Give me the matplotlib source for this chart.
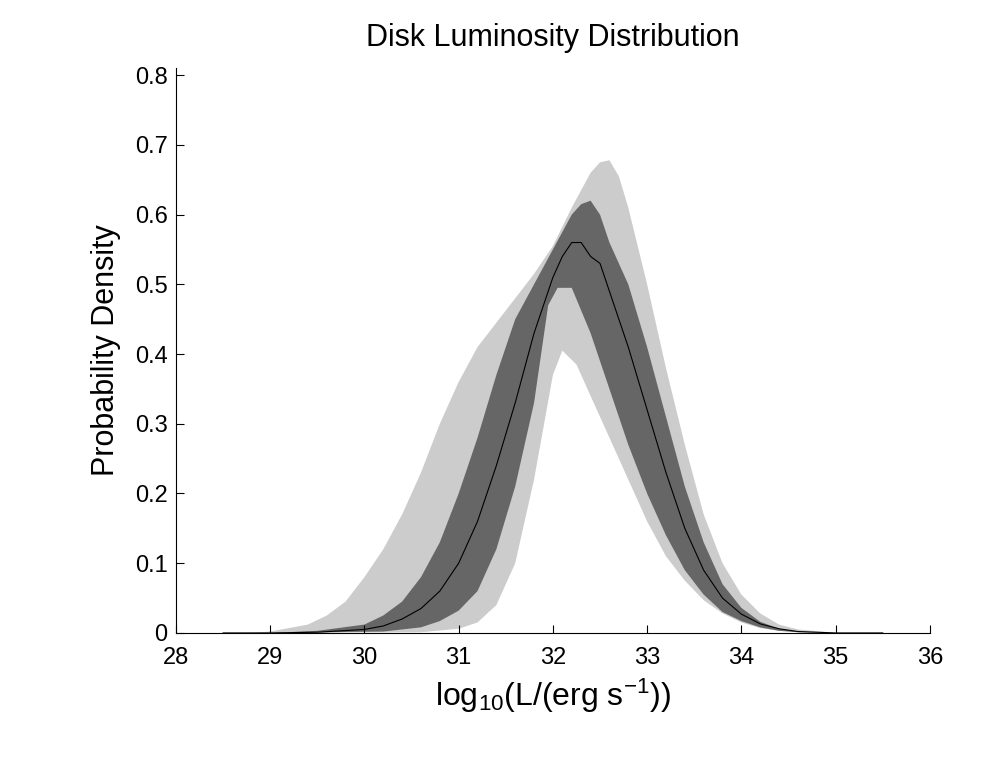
import matplotlib
matplotlib.use("Agg")
import matplotlib.pyplot as plt

plt.rcParams['font.family'] = ['Liberation Sans', 'DejaVu Sans']
plt.rcParams['mathtext.fontset'] = 'custom'
plt.rcParams['mathtext.rm'] = 'Liberation Sans'
plt.rcParams['mathtext.it'] = 'Liberation Sans'

med_x = [28.5,29,29.5,30,30.2,30.4,30.6,30.8,31,31.2,31.4,31.6,31.8,32,32.1,32.2,32.3,32.4,32.5,32.6,32.8,33,33.2,33.4,33.6,33.8,34,34.2,34.4,34.6,35,35.5]
med_y = [0,0,0.001,0.005,0.01,0.02,0.035,0.06,0.1,0.16,0.24,0.33,0.43,0.51,0.54,0.56,0.56,0.54,0.53,0.49,0.41,0.32,0.23,0.15,0.09,0.05,0.027,0.013,0.006,0.002,0,0]

d_up_x = [29,29.5,30,30.2,30.4,30.6,30.8,31,31.2,31.4,31.6,31.8,32,32.2,32.3,32.4,32.5,32.6,32.8,33,33.2,33.4,33.6,33.8,34,34.2,34.4,34.6,35]
d_up_y = [0,0.003,0.012,0.025,0.045,0.08,0.13,0.2,0.28,0.37,0.45,0.5,0.55,0.6,0.615,0.62,0.6,0.56,0.5,0.41,0.31,0.21,0.13,0.07,0.036,0.016,0.006,0.002,0]
d_lo_x = [29,30.2,30.6,30.8,31,31.2,31.4,31.6,31.8,31.95,32.05,32.2,32.4,32.6,32.8,33,33.2,33.4,33.6,33.8,34,34.2,34.4,34.6,35]
d_lo_y = [0,0.002,0.008,0.017,0.032,0.06,0.12,0.21,0.33,0.47,0.495,0.495,0.43,0.35,0.27,0.2,0.14,0.09,0.055,0.03,0.017,0.008,0.003,0.001,0]

l_up_x = [28.8,29,29.4,29.6,29.8,30,30.2,30.4,30.6,30.8,31,31.2,31.4,31.6,31.8,32,32.2,32.3,32.4,32.5,32.6,32.7,32.8,33,33.2,33.4,33.6,33.8,34,34.2,34.4,34.6,35]
l_up_y = [0,0.002,0.012,0.025,0.045,0.08,0.12,0.17,0.23,0.3,0.36,0.41,0.445,0.48,0.515,0.555,0.61,0.635,0.66,0.675,0.678,0.655,0.61,0.5,0.38,0.27,0.17,0.1,0.055,0.028,0.012,0.005,0]
l_lo_x = [28.8,30.6,31,31.2,31.4,31.6,31.8,32,32.1,32.25,32.4,32.6,32.8,33,33.2,33.4,33.6,33.8,34,34.2,34.4,35]
l_lo_y = [0,0.001,0.006,0.015,0.04,0.1,0.22,0.37,0.405,0.385,0.34,0.28,0.22,0.16,0.11,0.075,0.047,0.028,0.015,0.007,0.003,0]

fig = plt.figure(figsize=(9.86, 7.58), dpi=100)
ax = fig.add_axes([0.1785, 0.165, 0.7645, 0.745])
ax.fill(l_up_x + l_lo_x[::-1], l_up_y + l_lo_y[::-1], color='#cccccc', lw=0)
ax.fill(d_up_x + d_lo_x[::-1], d_up_y + d_lo_y[::-1], color='#666666', lw=0)
ax.plot(med_x, med_y, color='black', lw=0.8)

ax.set_xlim(28, 36)
ax.set_ylim(0, 0.81)
ax.set_xticks(range(28, 37))
ax.set_yticks([0, 0.1, 0.2, 0.3, 0.4, 0.5, 0.6, 0.7, 0.8])
ax.set_yticklabels(['0', '0.1', '0.2', '0.3', '0.4', '0.5', '0.6', '0.7', '0.8'])
ax.tick_params(direction='in', labelsize=17, length=6)
ax.tick_params(axis='x', pad=10)
ax.tick_params(axis='y', pad=6)
for s in ['top', 'right']:
    ax.spines[s].set_visible(False)
ax.set_xlabel(r'log$_{10}$(L/(erg s$^{-1}$))', fontsize=23, labelpad=6)
ax.set_ylabel('Probability Density', fontsize=22, labelpad=10)
ax.set_title('Disk Luminosity Distribution', fontsize=22, pad=16)
fig.savefig('out.png', dpi=100)
